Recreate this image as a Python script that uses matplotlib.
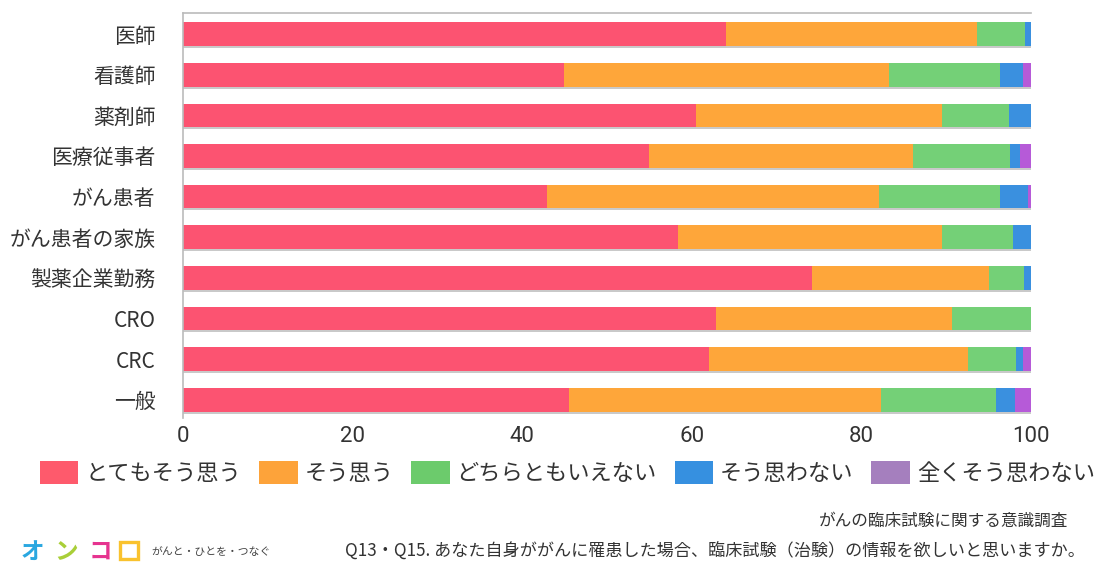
import matplotlib
matplotlib.use("Agg")
import matplotlib.pyplot as plt
import matplotlib.patheffects as pe
from matplotlib.patches import Patch, Rectangle
import numpy as np

plt.rcParams['font.family'] = ['Noto Sans CJK JP', 'DejaVu Sans']

categories = ["医師", "看護師", "薬剤師", "医療従事者", "がん患者", "がん患者の家族",
              "製薬企業勤務", "CRO", "CRC", "一般"]
series_names = ["とてもそう思う", "そう思う", "どちらともいえない", "そう思わない", "全くそう思わない"]
very_agree = [64.0, 44.9, 60.5, 54.9, 42.9, 58.4, 74.2, 62.8, 62.0, 45.5]
agree = [29.6, 38.3, 29.0, 31.2, 39.2, 31.1, 20.8, 27.9, 30.6, 36.8]
neutral = [5.7, 13.1, 7.9, 11.4, 14.2, 8.4, 4.2, 9.3, 5.6, 13.6]
disagree = [0.7, 2.8, 2.6, 1.2, 3.3, 2.1, 0.8, 0.0, 0.9, 2.2]
strongly_disagree = [0.0, 0.9, 0.0, 1.3, 0.4, 0.0, 0.0, 0.0, 0.9, 1.9]
x_ticks = [0, 20, 40, 60, 80, 100]

bar_colors = ["#FC5371", "#FEA63A", "#74D077", "#3A90DF", "#B65AD8"]
legend_colors = ["#FE5A6C", "#FDA33A", "#6CCB6C", "#3690E0", "#A57FBE"]
text_color = "#333333"

fig = plt.figure(figsize=(11.08, 5.62), dpi=100)
ax = fig.add_axes([0.1654, 0.2562, 0.7651, 0.7207])

series = [very_agree, agree, neutral, disagree, strongly_disagree]
y = np.arange(len(categories))
left = np.zeros(len(categories))
shadow = [pe.SimplePatchShadow(offset=(0, -1.5), shadow_rgbFace="#888888", alpha=0.45), pe.Normal()]
for vals, col in zip(series, bar_colors):
    vals = np.array(vals)
    bars = ax.barh(y, vals, left=left, height=0.58, color=col, edgecolor="none")
    for b in bars:
        b.set_path_effects(shadow)
    left += vals

ax.set_xlim(0, 100)
ax.set_ylim(9.45, -0.52)
ax.set_yticks(y)
ax.set_yticklabels(categories, fontsize=15, color=text_color)
ax.set_xticks(x_ticks)
ax.set_xticklabels([str(t) for t in x_ticks], fontsize=16, color=text_color, family=['Roboto', 'DejaVu Sans'])
ax.tick_params(axis='y', length=0, pad=20)
ax.tick_params(axis='x', length=0, pad=6)
for s in ["right", "bottom"]:
    ax.spines[s].set_visible(False)
ax.spines["top"].set_color("#BBBBBB")
ax.spines["left"].set_color("#BBBBBB")
ax.spines["top"].set_linewidth(1.2)
ax.spines["left"].set_linewidth(1.2)

handles = [Patch(facecolor=c, edgecolor="none") for c in legend_colors]
fig.legend(handles, series_names, loc="center", bbox_to_anchor=(0.512, 0.158), ncol=5,
           frameon=False, fontsize=16, handlelength=1.75, handleheight=1.2,
           columnspacing=0.8, handletextpad=0.3, labelcolor=text_color)

fig.text(0.964, 0.073, "がんの臨床試験に関する意識調査", ha="right", va="center", fontsize=12, color=text_color)
fig.text(0.979, 0.021, "Q13・Q15. あなた自身ががんに罹患した場合、臨床試験（治験）の情報を欲しいと思いますか。",
         ha="right", va="center", fontsize=12.3, color=text_color)

# logo
logo_chars = ["オ", "ン", "コ"]
logo_cols = ["#2AA7E0", "#A9CF38", "#E6338F"]
for i, (ch, c) in enumerate(zip(logo_chars, logo_cols)):
    fig.text((32 + i * 34) / 1108, 0.018, ch, ha="center", va="center", fontsize=17,
             fontweight="bold", color=c)
fig.patches.append(Rectangle((120 / 1108, 0.006), 18 / 1108, 0.029, transform=fig.transFigure,
                             fill=False, edgecolor="#F9C22E", linewidth=2.4))
fig.text(151 / 1108, 0.018, "がんと・ひとを・つなぐ", ha="left", va="center", fontsize=7.8, color="#444444")

fig.savefig("out.png", dpi=100)
